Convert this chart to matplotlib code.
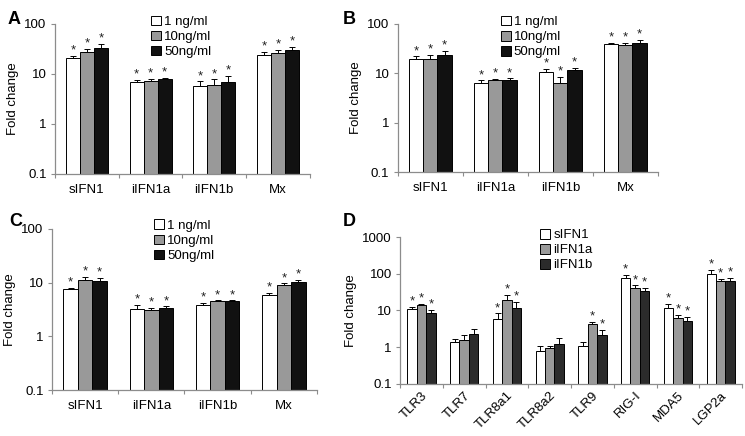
import numpy as np
import matplotlib
matplotlib.use("Agg")
import matplotlib.pyplot as plt

plt.rcParams['font.family'] = ['Liberation Sans', 'DejaVu Sans']

# panels A-C: cytokine genes, three doses
genes = ["sIFN1", "iIFN1a", "iIFN1b", "Mx"]
doses = ["1 ng/ml", "10ng/ml", "50ng/ml"]

A_1ng = [21, 6.9, 5.7, 24.4]
A_10ng = [28, 7.2, 6.0, 26.7]
A_50ng = [33, 7.9, 7.0, 30.2]
A_1ng_err = [2.3, 0.8, 1.4, 3.1]
A_10ng_err = [4.0, 0.7, 1.8, 3.9]
A_50ng_err = [7.0, 0.6, 2.1, 4.3]

B_1ng = [19.3, 6.35, 10.8, 38.5]
B_10ng = [19.9, 7.3, 6.25, 37.9]
B_50ng = [23.7, 7.3, 11.7, 41.6]
B_1ng_err = [2.7, 0.85, 1.4, 3.1]
B_10ng_err = [3.7, 0.3, 2.25, 3.7]
B_50ng_err = [5.3, 0.6, 1.3, 5.4]

C_1ng = [7.7, 3.3, 3.9, 5.8]
C_10ng = [11.0, 3.1, 4.5, 9.1]
C_50ng = [10.6, 3.4, 4.5, 10.15]
C_1ng_err = [0.4, 0.5, 0.3, 0.6]
C_10ng_err = [1.9, 0.25, 0.2, 0.6]
C_50ng_err = [1.7, 0.2, 0.2, 1.25]

# panel D: receptors, three interferons
receptors = ["TLR3", "TLR7", "TLR8a1", "TLR8a2", "TLR9", "RIG-I", "MDA5", "LGP2a"]
ifns = ["sIFN1", "iIFN1a", "iIFN1b"]
D_sIFN1 = [10.9, 1.37, 5.7, 0.8, 1.09, 78, 11.8, 100]
D_iIFN1a = [14, 1.58, 19, 0.97, 4.4, 40, 6.2, 63]
D_iIFN1b = [8.5, 2.36, 12, 1.23, 2.2, 33.6, 5.1, 65]
D_sIFN1_err = [1.7, 0.33, 2.6, 0.3, 0.28, 16, 3.2, 28]
D_iIFN1a_err = [1.5, 0.62, 8, 0.13, 0.5, 8, 1.4, 10]
D_iIFN1b_err = [2.1, 0.84, 5, 0.53, 0.7, 6.4, 1.6, 14]
D_sIFN1_sig = [1, 0, 1, 0, 0, 1, 1, 1]
D_iIFN1a_sig = [1, 0, 1, 0, 1, 1, 1, 1]
D_iIFN1b_sig = [1, 0, 1, 0, 1, 1, 1, 1]

AXCOL = "#8c8c8c"


def panel(ax, cats, series, errs, sigs, colors, labels, ymax, leg_x, rot=False):
    n = len(cats)
    w = 0.22
    x = np.arange(n)
    handles = []
    for i, (vals, err, sig, col) in enumerate(zip(series, errs, sigs, colors)):
        xs = x + 0.5 + (i - 1) * w
        b = ax.bar(xs, vals, w, color=col, edgecolor="black", linewidth=0.7, zorder=2)
        handles.append(b)
        ax.errorbar(xs, vals, yerr=[np.zeros(n), err], fmt="none", ecolor="black",
                    elinewidth=0.7, capsize=2.5, capthick=0.7, zorder=3)
        for xx, v, e, s in zip(xs, vals, err, sig):
            if s:
                ax.text(xx, (v + e) * 0.97, "*", ha="center", va="bottom",
                        fontsize=9.5, color="#222222")
    ax.set_yscale("log")
    ax.set_ylim(0.1, ymax)
    ax.set_xlim(0, n)
    ticks = [10.0 ** k for k in range(-1, int(np.log10(ymax)) + 1)]
    ax.set_yticks(ticks)
    ax.set_yticklabels(["0.1"] + [str(int(t)) for t in ticks[1:]])
    ax.yaxis.set_minor_locator(matplotlib.ticker.NullLocator())
    ax.set_xticks(np.arange(n + 1))
    ax.set_xticklabels([])
    ax.set_xticks(x + 0.5, minor=True)
    if rot:
        ax.set_xticklabels(cats, minor=True, rotation=45, ha="right", va="top",
                           rotation_mode="anchor", fontsize=9.5)
        ax.tick_params(axis="x", which="minor", length=0, pad=4)
    else:
        ax.set_xticklabels(cats, minor=True, fontsize=9.5)
        ax.tick_params(axis="x", which="minor", length=0, pad=7)
    ax.tick_params(axis="x", which="major", length=3, color=AXCOL, width=0.8)
    ax.tick_params(axis="y", length=3, color=AXCOL, width=0.8, labelsize=9.5, pad=3)
    for s in ["top", "right"]:
        ax.spines[s].set_visible(False)
    for s in ["left", "bottom"]:
        ax.spines[s].set_color(AXCOL)
        ax.spines[s].set_linewidth(0.9)
    ax.set_ylabel("Fold change", fontsize=9.5, labelpad=4)
    ax.legend(handles, labels, loc="upper left", bbox_to_anchor=(leg_x, 1.1),
              frameon=False, fontsize=9.5, handlelength=0.75, handleheight=0.75,
              handletextpad=0.25, labelspacing=0.2, borderpad=0)


fig = plt.figure(figsize=(7.45, 4.36), dpi=100)
colsABC = ["white", "#999999", "#111111"]
colsD = ["white", "#999999", "#2b2b2b"]
star3 = [[1] * 4] * 3

axA = fig.add_axes([0.0738, 0.601, 0.342, 0.344])
panel(axA, genes, [A_1ng, A_10ng, A_50ng], [A_1ng_err, A_10ng_err, A_50ng_err],
      star3, colsABC, doses, 100, 0.35)
axB = fig.add_axes([0.534, 0.6055, 0.349, 0.3395])
panel(axB, genes, [B_1ng, B_10ng, B_50ng], [B_1ng_err, B_10ng_err, B_50ng_err],
      star3, colsABC, doses, 100, 0.37)
axC = fig.add_axes([0.0698, 0.1055, 0.3557, 0.3693])
panel(axC, genes, [C_1ng, C_10ng, C_50ng], [C_1ng_err, C_10ng_err, C_50ng_err],
      star3, colsABC, doses, 100, 0.36)
axD = fig.add_axes([0.537, 0.1193, 0.459, 0.3371])
panel(axD, receptors, [D_sIFN1, D_iIFN1a, D_iIFN1b],
      [D_sIFN1_err, D_iIFN1a_err, D_iIFN1b_err],
      [D_sIFN1_sig, D_iIFN1a_sig, D_iIFN1b_sig], colsD, ifns, 1000, 0.39, rot=True)

for lab, xx, yy in [("A", 0.010, 0.975), ("B", 0.460, 0.975),
                    ("C", 0.012, 0.512), ("D", 0.460, 0.512)]:
    fig.text(xx, yy, lab, fontsize=13, fontweight="bold", va="top", ha="left")

fig.savefig("out.png", dpi=100)
